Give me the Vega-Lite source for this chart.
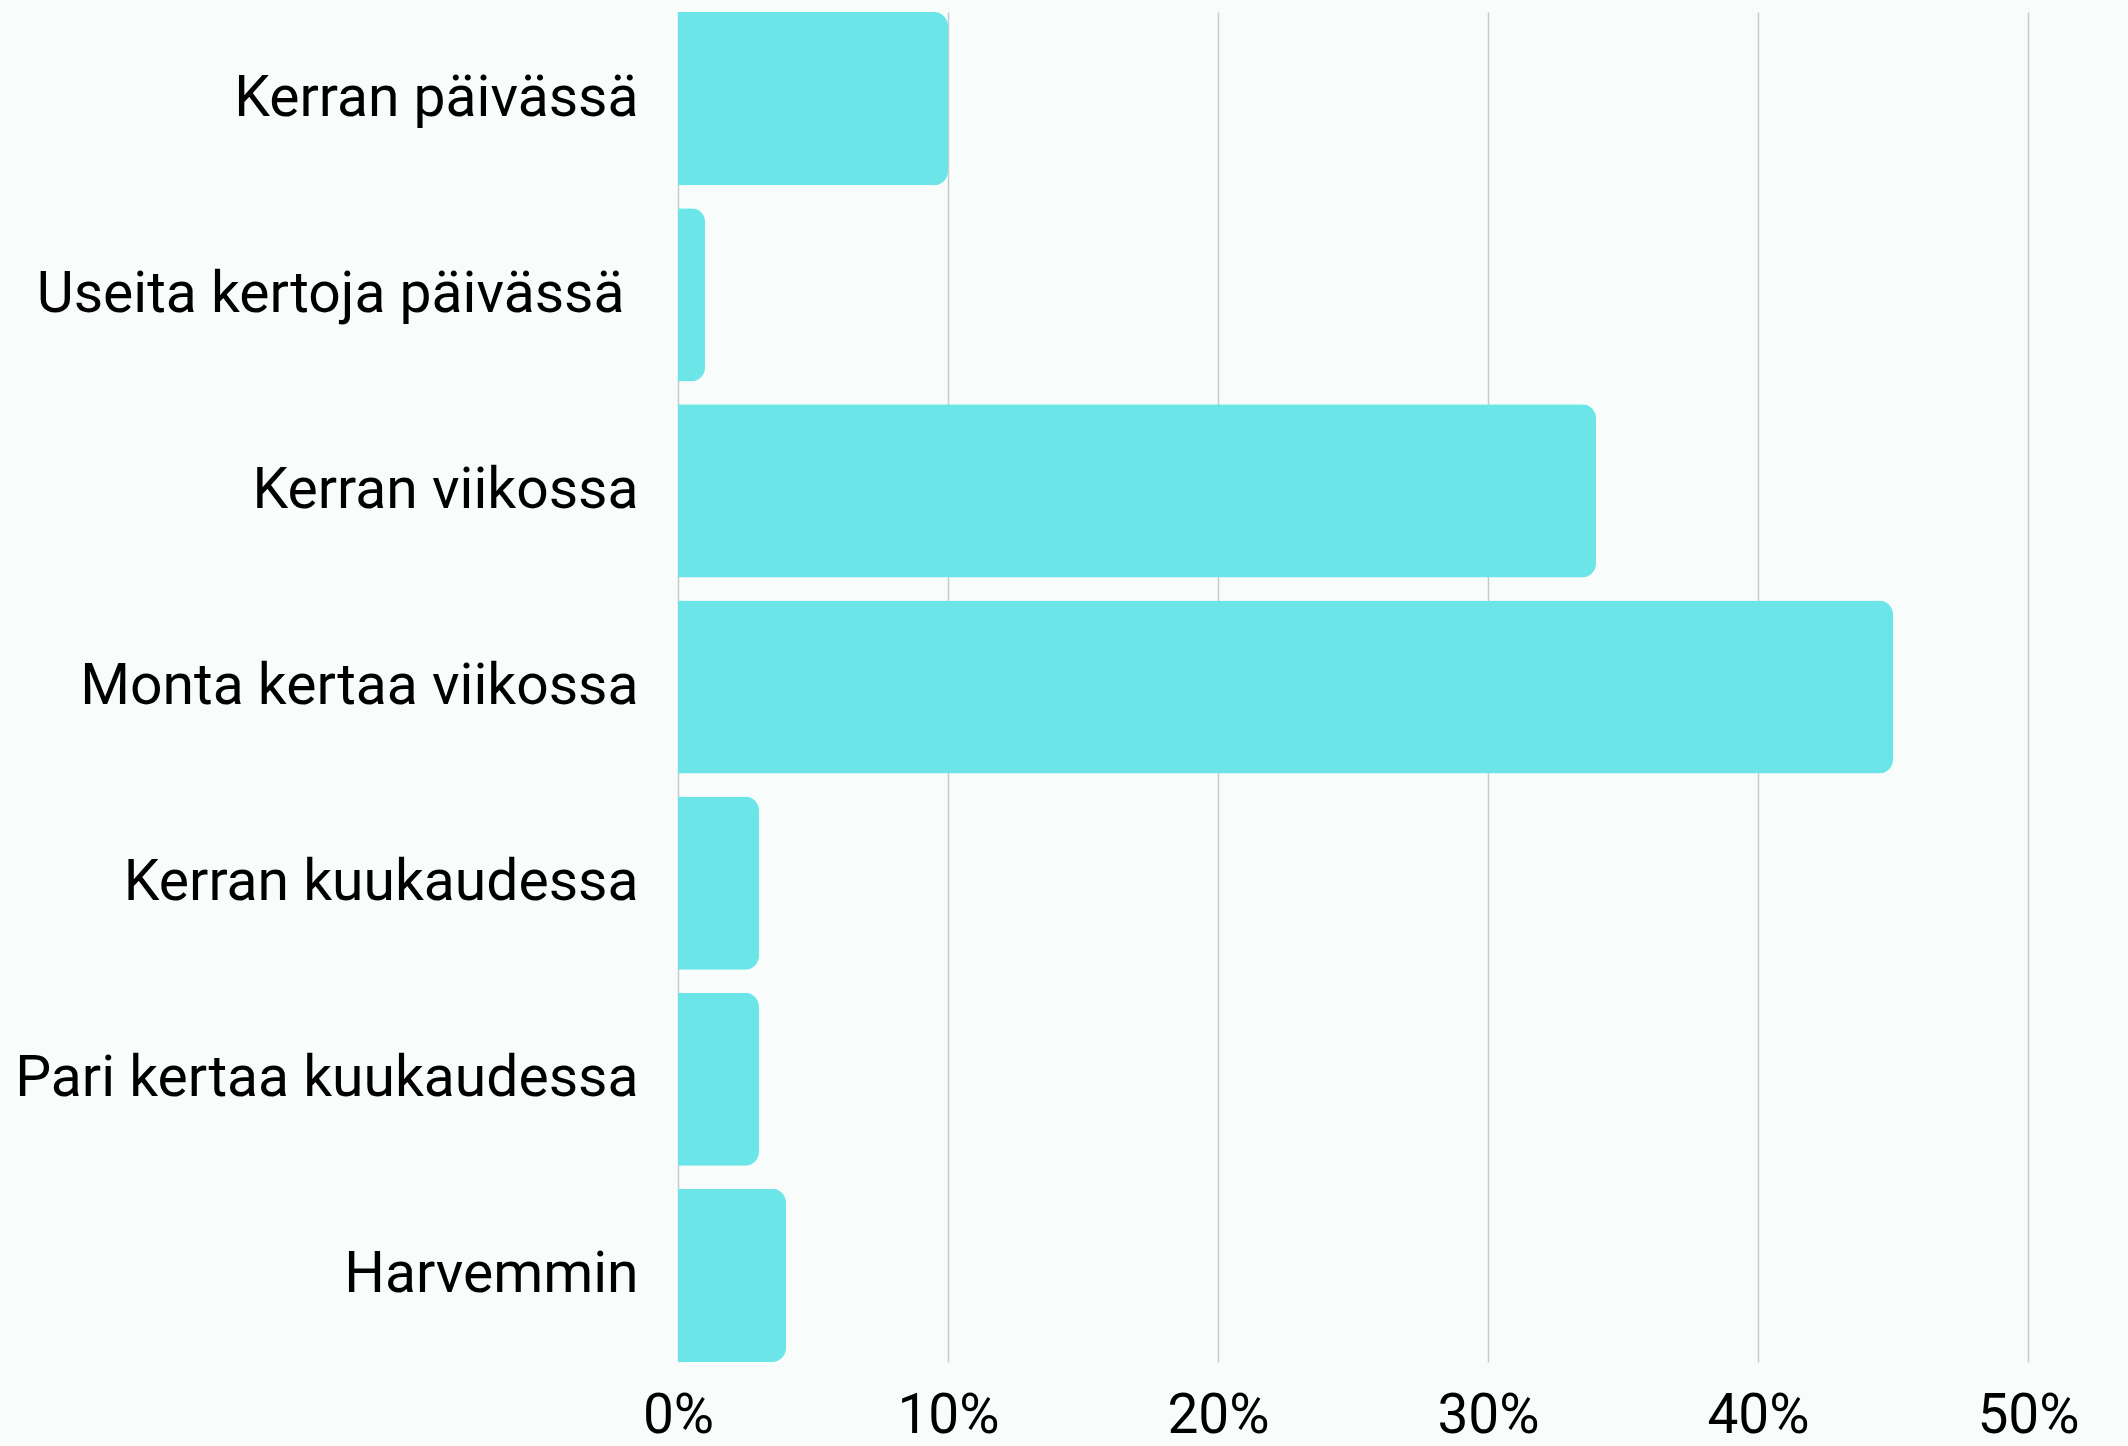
{
  "$schema": "https://vega.github.io/schema/vega-lite/v6.json",
  "autosize": {"type": "none"},
  "width": 1350,
  "height": 1350,
  "padding": {"left": 678, "top": 12, "right": 100, "bottom": 84},
  "background": "#f8fdfc",
  "data": {
    "values": [
      {"label": "Kerran päivässä", "pct": 10},
      {"label": "Useita kertoja päivässä", "pct": 1},
      {"label": "Kerran viikossa", "pct": 34},
      {"label": "Monta kertaa viikossa", "pct": 45},
      {"label": "Kerran kuukaudessa", "pct": 3},
      {"label": "Pari kertaa kuukaudessa", "pct": 3},
      {"label": "Harvemmin", "pct": 4}
    ]
  },
  "mark": {"type": "bar", "color": "#6ce5e8", "cornerRadiusEnd": 14},
  "encoding": {
    "y": {
      "field": "label",
      "type": "nominal",
      "sort": null,
      "scale": {"paddingInner": 0.117, "paddingOuter": 0},
      "axis": {
        "title": null,
        "domain": false,
        "ticks": false,
        "labelFont": "Roboto",
        "labelFontSize": 57,
        "labelColor": "#000000",
        "labelLimit": 0,
        "labelPadding": {"condition": {"test": "indexof(datum.value, 'Useita') === 0", "value": 54}, "value": 40}
      }
    },
    "x": {
      "field": "pct",
      "type": "quantitative",
      "scale": {"domain": [0, 50], "nice": false},
      "axis": {
        "title": null,
        "domain": false,
        "ticks": false,
        "values": [0, 10, 20, 30, 40, 50],
        "labelExpr": "datum.value + '%'",
        "labelFont": "Roboto",
        "labelFontSize": 55,
        "labelColor": "#000000",
        "labelPadding": 27,
        "labelFlush": false,
        "grid": true,
        "gridColor": "#c6cbcb",
        "gridWidth": 1.5
      }
    }
  },
  "config": {"view": {"stroke": null}}
}
